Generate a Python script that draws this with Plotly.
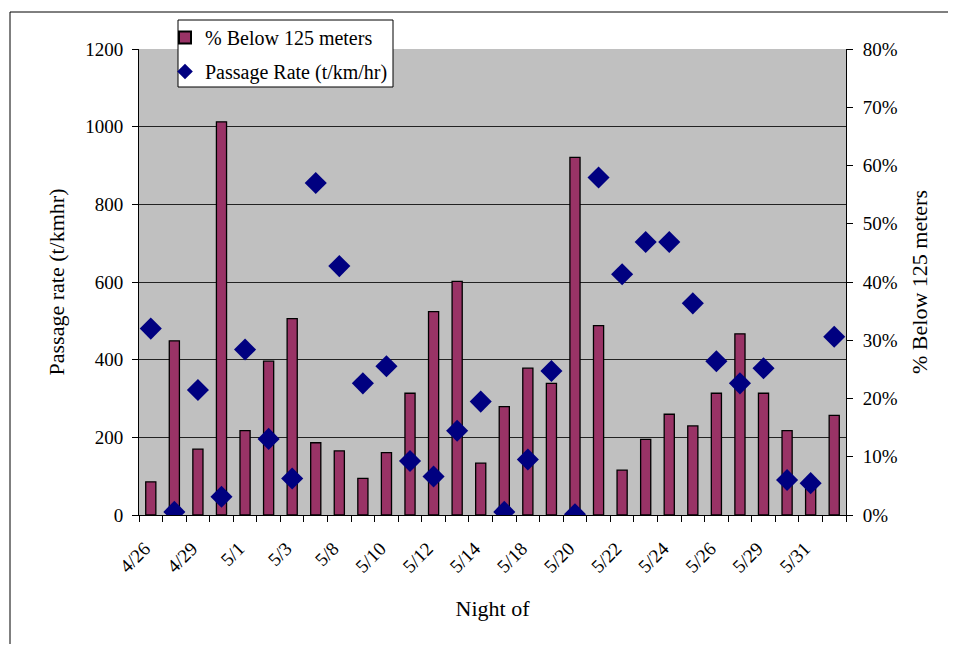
import plotly.graph_objects as go

nights = ["4/26", "4/27", "4/29", "4/30", "5/1", "5/2", "5/3", "5/7", "5/8", "5/9",
          "5/10", "5/11", "5/12", "5/13", "5/14", "5/17", "5/18", "5/19", "5/20", "5/21",
          "5/22", "5/23", "5/24", "5/25", "5/26", "5/28", "5/29", "5/30", "5/31", "6/1"]
tick_labels = ["4/26", "4/29", "5/1", "5/3", "5/8", "5/10", "5/12", "5/14", "5/18",
               "5/20", "5/22", "5/24", "5/26", "5/29", "5/31"]

pct_below_125 = [5.7, 29.9, 11.3, 67.5, 14.5, 26.4, 33.7, 12.4, 11.0, 6.3,
                 10.7, 20.9, 34.9, 40.1, 8.9, 18.6, 25.2, 22.6, 61.4, 32.5,
                 7.7, 13.0, 17.3, 15.3, 20.9, 31.1, 20.9, 14.5, 5.2, 17.1]
passage_rate = [480, 8, 322, 47, 426, 196, 94, 855, 641, 339,
                383, 139, 99, 217, 292, 8, 143, 371, 2, 869,
                620, 703, 703, 545, 396, 339, 378, 90, 82, 459]

idx = list(range(len(nights)))
tick_pos = [nights.index(t) for t in tick_labels]

FONT = "Liberation Serif"
OFF = 8  # page body margin
W, H = 956 - 2 * OFF, 652 - 2 * OFF
L, T = 139 - OFF, 49 - OFF
R = W - (846 - OFF)
B = H - (515 - OFF)
PW, PH = W - L - R, H - T - B


def px_x(x):  # page pixel -> paper
    return (x - OFF - L) / PW


def px_y(y):
    return (H - B - (y - OFF)) / PH


fig = go.Figure()
fig.add_trace(go.Bar(
    x=idx, y=pct_below_125, name="% Below 125 meters", yaxis="y",
    width=0.43, marker=dict(color="#993366", line=dict(color="black", width=1.3)),
    legendgroup="a",
))
fig.add_trace(go.Scatter(
    x=idx, y=passage_rate, name="Passage Rate (t/km/hr)", yaxis="y2",
    mode="markers", marker=dict(symbol="diamond", size=17, color="#000080"),
    legendgroup="b",
))

fig.update_layout(
    width=W, height=H,
    margin=dict(l=L, r=R, t=T, b=B, autoexpand=False),
    paper_bgcolor="white", plot_bgcolor="#C0C0C0",
    font=dict(family=FONT, size=19, color="black"),
    showlegend=True,
    legend=dict(
        x=px_x(165), y=px_y(18), xanchor="left", yanchor="top",
        bgcolor="rgba(0,0,0,0)", borderwidth=0,
        font=dict(family=FONT, size=20), tracegroupgap=5,
        traceorder="grouped", itemsizing="constant",
    ),
    xaxis=dict(
        range=[-0.5, len(nights) - 0.5],
        tickmode="array", tickvals=tick_pos, ticktext=tick_labels,
        tickangle=-45, ticks="", showgrid=False, zeroline=False,
        showline=True, linecolor="black", linewidth=1,
        minor=dict(ticks="outside", ticklen=6, tick0=-0.5, dtick=1,
                   tickcolor="black", showgrid=False),
        tickfont=dict(size=19), automargin=False,
        ticklabelstandoff=14, ticklabelshift=-6,
        title=dict(text="Night of", font=dict(size=22), standoff=24),
    ),
    yaxis=dict(
        side="right", range=[0, 80], dtick=10, ticksuffix="%",
        showgrid=False, zeroline=False, showline=True, linecolor="black",
        ticks="outside", ticklen=6, tickcolor="black", ticklabelstandoff=6,
        tickfont=dict(size=19), automargin=False,
        title=dict(text="% Below 125 meters", font=dict(size=22), standoff=14),
    ),
    yaxis2=dict(
        side="left", overlaying="y", range=[0, 1200], dtick=200,
        showgrid=True, gridcolor="#222222", gridwidth=1, zeroline=False,
        showline=True, linecolor="black",
        ticks="outside", ticklen=6, tickcolor="black", ticklabelstandoff=5,
        tickfont=dict(size=19), automargin=False,
        title=dict(text="Passage rate (t/kmhr)", font=dict(size=22), standoff=14),
    ),
    shapes=[
        dict(type="line", xref="paper", yref="paper",
             x0=px_x(10), x1=px_x(OFF + W + 10), y0=px_y(12), y1=px_y(12),
             line=dict(color="black", width=1), layer="below"),
        dict(type="line", xref="paper", yref="paper",
             x0=px_x(10), x1=px_x(10), y0=px_y(12), y1=px_y(OFF + H + 10),
             line=dict(color="black", width=1), layer="below"),
        dict(type="rect", xref="paper", yref="paper",
             x0=px_x(178), x1=px_x(393), y0=px_y(87), y1=px_y(20),
             line=dict(color="black", width=1), fillcolor="white", layer="above"),
    ],
)

fig.write_html("out.html")
